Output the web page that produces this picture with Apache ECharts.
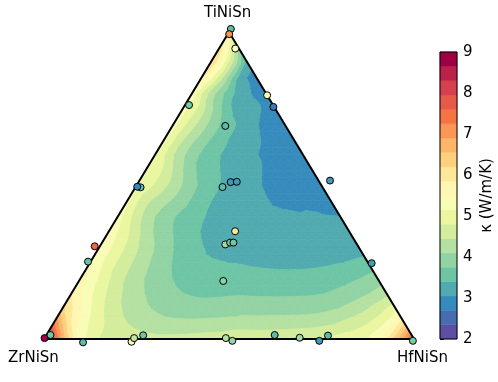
<!DOCTYPE html>
<html><head><meta charset="utf-8">
<script src="https://cdn.jsdelivr.net/npm/echarts@6/dist/echarts.min.js"></script>
<style>html,body{margin:0;padding:0;background:#fff}#c{width:498px;height:382px}</style>
</head><body><div id="c"></div>
<script>
// Ternary axis names (top, bottom-left, bottom-right)
const vertexNames = ['TiNiSn', 'ZrNiSn', 'HfNiSn'];

// Thermal conductivity surface read on a 0.1 ternary grid.
// Row i: TiNiSn fraction = i/10; entry j: HfNiSn fraction = j/10.
const kappaGrid = [
  [9.0, 5.3, 4.7, 4.55, 4.6, 4.7, 4.7, 4.75, 4.95, 5.4, 7.8],
  [6.3, 4.9, 4.25, 3.95, 3.9, 3.95, 3.95, 4.0, 4.3, 5.0],
  [5.7, 4.6, 3.95, 3.6, 3.55, 3.5, 3.5, 3.6, 3.9],
  [5.5, 4.5, 3.75, 3.35, 3.25, 3.2, 3.2, 3.25],
  [5.3, 4.1, 3.55, 3.2, 3.15, 3.08, 3.05],
  [5.2, 4.3, 3.5, 3.2, 2.85, 2.9],
  [5.2, 3.9, 3.3, 3.0, 2.8],
  [5.3, 4.0, 3.2, 2.85],
  [5.4, 3.55, 2.95],
  [6.3, 3.2],
  [5.5]
];

// Measured samples: TiNiSn fraction, HfNiSn fraction, kappa (W/m/K)
const ptTi = [1.010, 0.993, 0.946, 0.762, 0.794, 0.756, 0.694, 0.516, 0.511, 0.512, 0.495, 0.494, 0.496, 0.302, 0.252, 0.351, 0.308, 0.314, 0.314, 0.189, 0.247, 0.003, 0.013, -0.011, -0.009, 0.003, 0.012, 0.003, -0.006, 0.013, 0.004, -0.006, 0.011, -0.006];
const ptHf = [0.000, 0.004, 0.044, 0.011, 0.206, 0.242, 0.143, 0.515, 0.249, 0.265, 0.235, 0.014, 0.004, -0.014, -0.007, 0.341, 0.336, 0.346, 0.355, 0.390, 0.762, 0.000, 0.011, 0.111, 0.241, 0.242, 0.262, 0.490, 0.512, 0.617, 0.689, 0.747, 0.762, 1.000];
const ptKappa = [3.3, 7.2, 5.5, 3.6, 5.3, 2.5, 3.3, 2.9, 2.9, 2.9, 3.3, 3.3, 2.7, 7.7, 3.4, 6.0, 4.0, 3.5, 3.5, 3.8, 2.95, 9.0, 3.5, 3.3, 5.2, 4.4, 3.5, 4.2, 3.9, 3.3, 4.0, 2.9, 3.3, 3.6];

// Contour levels and colorbar ticks
const contourLevels = [2.0, 2.35, 2.7, 3.05, 3.4, 3.75, 4.1, 4.45, 4.8, 5.15, 5.5, 5.85, 6.2, 6.55, 6.9, 7.25, 7.6, 7.95, 8.3, 8.65, 9.0];
const cbTicks = [2, 3, 4, 5, 6, 7, 8, 9];

// Spectral_r colormap
const spectralR = ['#5e4fa2','#3288bd','#66c2a5','#abdda4','#e6f598','#ffffbf','#fee08b','#fdae61','#f46d43','#d53e4f','#9e0142'];
function hex2rgb(h){return [parseInt(h.slice(1,3),16),parseInt(h.slice(3,5),16),parseInt(h.slice(5,7),16)];}
const spRGB = spectralR.map(hex2rgb);
function cmap(t){
  t = Math.max(0, Math.min(1, t));
  const s = t * (spRGB.length - 1);
  const k = Math.min(Math.floor(s), spRGB.length - 2);
  const f = s - k;
  const a = spRGB[k], b = spRGB[k + 1];
  return 'rgb(' + [0,1,2].map(c => Math.round(a[c] + (b[c] - a[c]) * f)).join(',') + ')';
}
const nBands = contourLevels.length - 1;
const bandColors = [];
for (let b = 0; b < nBands; b++) bandColors.push(cmap(b / (nBands - 1)));
const vmin = contourLevels[0], vmax = contourLevels[contourLevels.length - 1];

// ternary -> cartesian (x = Hf + Ti/2, y = Ti)
function tern(ti, hf){ return [hf + ti / 2, ti]; }

// smooth refinement of the triangular grid for rendering (cubic midpoints along grid lines)
function refine(g){
  const M = g.length - 1, M2 = 2 * M;
  const has = (i, j) => i >= 0 && j >= 0 && i + j <= M;
  function mid(i0, j0, di, dj){
    const a = g[i0][j0], b = g[i0 + di][j0 + dj];
    const pm = has(i0 - di, j0 - dj), pp = has(i0 + 2 * di, j0 + 2 * dj);
    if (pm && pp) return (-g[i0 - di][j0 - dj] + 9 * a + 9 * b - g[i0 + 2 * di][j0 + 2 * dj]) / 16;
    if (pp) return (3 * a + 6 * b - g[i0 + 2 * di][j0 + 2 * dj]) / 8;
    if (pm) return (-g[i0 - di][j0 - dj] + 6 * a + 3 * b) / 8;
    return (a + b) / 2;
  }
  const r = [];
  for (let i = 0; i <= M2; i++) {
    r.push([]);
    for (let j = 0; j <= M2 - i; j++) {
      let v;
      if (i % 2 === 0 && j % 2 === 0) v = g[i / 2][j / 2];
      else if (i % 2 === 1 && j % 2 === 0) v = mid((i - 1) / 2, j / 2, 1, 0);
      else if (i % 2 === 0 && j % 2 === 1) v = mid(i / 2, (j - 1) / 2, 0, 1);
      else v = mid((i - 1) / 2, (j + 1) / 2, 1, -1);
      r[i].push(v);
    }
  }
  return r;
}
const fine = refine(refine(kappaGrid));

const N = fine.length - 1;
function node(i, j){ const p = tern(i / N, j / N); return [p[0], p[1], fine[i][j]]; }
const triData = [];
for (let i = 0; i < N; i++) {
  for (let j = 0; j <= N - i - 1; j++) {
    triData.push([].concat(node(i, j), node(i, j + 1), node(i + 1, j)));
    if (j + 1 <= N - i - 1) triData.push([].concat(node(i, j + 1), node(i + 1, j + 1), node(i + 1, j)));
  }
}

function clip(poly, level, above){
  const out = [];
  for (let k = 0; k < poly.length; k++) {
    const a = poly[k], b = poly[(k + 1) % poly.length];
    const ia = above ? a[2] >= level : a[2] < level;
    const ib = above ? b[2] >= level : b[2] < level;
    if (ia) out.push(a);
    if (ia !== ib) {
      const t = (level - a[2]) / (b[2] - a[2]);
      out.push([a[0] + (b[0] - a[0]) * t, a[1] + (b[1] - a[1]) * t, level]);
    }
  }
  return out;
}

const scatterData = ptTi.map((t, k) => { const p = tern(t, ptHf[k]); return [p[0], p[1], ptKappa[k]]; });
const bandData = [];
for (let b = 0; b < nBands; b++) bandData.push([contourLevels[b], contourLevels[b + 1], b]);

const chart = echarts.init(document.getElementById('c'), null, {renderer: 'canvas'});
const FONT = 'DejaVu Sans';
chart.setOption({
  animation: false,
  backgroundColor: '#fff',
  grid: [
    {left: 44, width: 370, top: 32, height: 307},
    {left: 440, width: 17, top: 52, height: 287}
  ],
  xAxis: [
    {gridIndex: 0, type: 'value', min: 0, max: 1, show: false},
    {gridIndex: 1, type: 'value', min: 0, max: 1, show: false}
  ],
  yAxis: [
    {gridIndex: 0, type: 'value', min: 0, max: 1, show: false},
    {gridIndex: 1, type: 'value', min: cbTicks[0], max: cbTicks[cbTicks.length - 1], interval: 1, position: 'right',
      splitLine: {show: false},
      axisLine: {show: false},
      axisTick: {show: true, length: 4, lineStyle: {color: '#000', width: 1}},
      axisLabel: {show: true, color: '#000', fontFamily: FONT, fontSize: 15, margin: 6},
      name: '\u03ba (W/m/K)', nameLocation: 'middle', nameRotate: 90, nameGap: 23,
      nameTextStyle: {color: '#000', fontFamily: FONT, fontSize: 15}
    }
  ],
  series: [
    {
      type: 'custom', xAxisIndex: 0, yAxisIndex: 0, data: triData, z: 1, silent: true,
      renderItem: function(params, api){
        const v = []; for (let k = 0; k < 9; k++) v.push(api.value(k));
        const tri = [[v[0], v[1], v[2]], [v[3], v[4], v[5]], [v[6], v[7], v[8]]];
        const children = [];
        for (let b = 0; b < nBands; b++) {
          let poly = clip(tri, contourLevels[b], true);
          if (poly.length < 3) continue;
          if (b < nBands - 1) poly = clip(poly, contourLevels[b + 1], false);
          if (poly.length < 3) continue;
          children.push({type: 'polygon', shape: {points: poly.map(p => api.coord([p[0], p[1]]))},
            style: {fill: bandColors[b], stroke: bandColors[b], lineWidth: 0.7}});
        }
        return {type: 'group', children: children};
      }
    },
    {
      type: 'line', xAxisIndex: 0, yAxisIndex: 0, z: 3, silent: true, symbol: 'none', clip: false,
      data: [tern(0, 0), tern(0, 1), tern(1, 0), tern(0, 0)],
      lineStyle: {color: '#000', width: 2}
    },
    {
      type: 'scatter', xAxisIndex: 0, yAxisIndex: 0, z: 4, symbol: 'circle', symbolSize: 7, clip: false,
      data: scatterData,
      itemStyle: {color: p => cmap((p.value[2] - vmin) / (vmax - vmin)), borderColor: '#000', borderWidth: 1, opacity: 1}
    },
    {
      type: 'custom', xAxisIndex: 1, yAxisIndex: 1, data: bandData, z: 1, silent: true,
      renderItem: function(params, api){
        const p1 = api.coord([0, api.value(1)]);
        const p2 = api.coord([1, api.value(0)]);
        const c = bandColors[api.value(2)];
        return {type: 'rect', shape: {x: p1[0], y: p1[1], width: p2[0] - p1[0], height: p2[1] - p1[1]},
          style: {fill: c, stroke: c, lineWidth: 0.5}};
      }
    },
    {
      type: 'custom', xAxisIndex: 1, yAxisIndex: 1, data: [[cbTicks[0], cbTicks[cbTicks.length - 1]]], z: 5, silent: true,
      renderItem: function(params, api){
        const p1 = api.coord([0, api.value(1)]);
        const p2 = api.coord([1, api.value(0)]);
        return {type: 'rect', shape: {x: p1[0], y: p1[1], width: p2[0] - p1[0], height: p2[1] - p1[1]},
          style: {fill: 'none', stroke: '#000', lineWidth: 1}};
      }
    }
  ],
  graphic: [
    {type: 'text', left: 230 - 26, top: 6, style: {text: vertexNames[0], font: '15px "DejaVu Sans"', fill: '#000'}},
    {type: 'text', left: 8, top: 351, style: {text: vertexNames[1], font: '15px "DejaVu Sans"', fill: '#000'}},
    {type: 'text', left: 397, top: 351, style: {text: vertexNames[2], font: '15px "DejaVu Sans"', fill: '#000'}}
  ]
});
</script></body></html>
